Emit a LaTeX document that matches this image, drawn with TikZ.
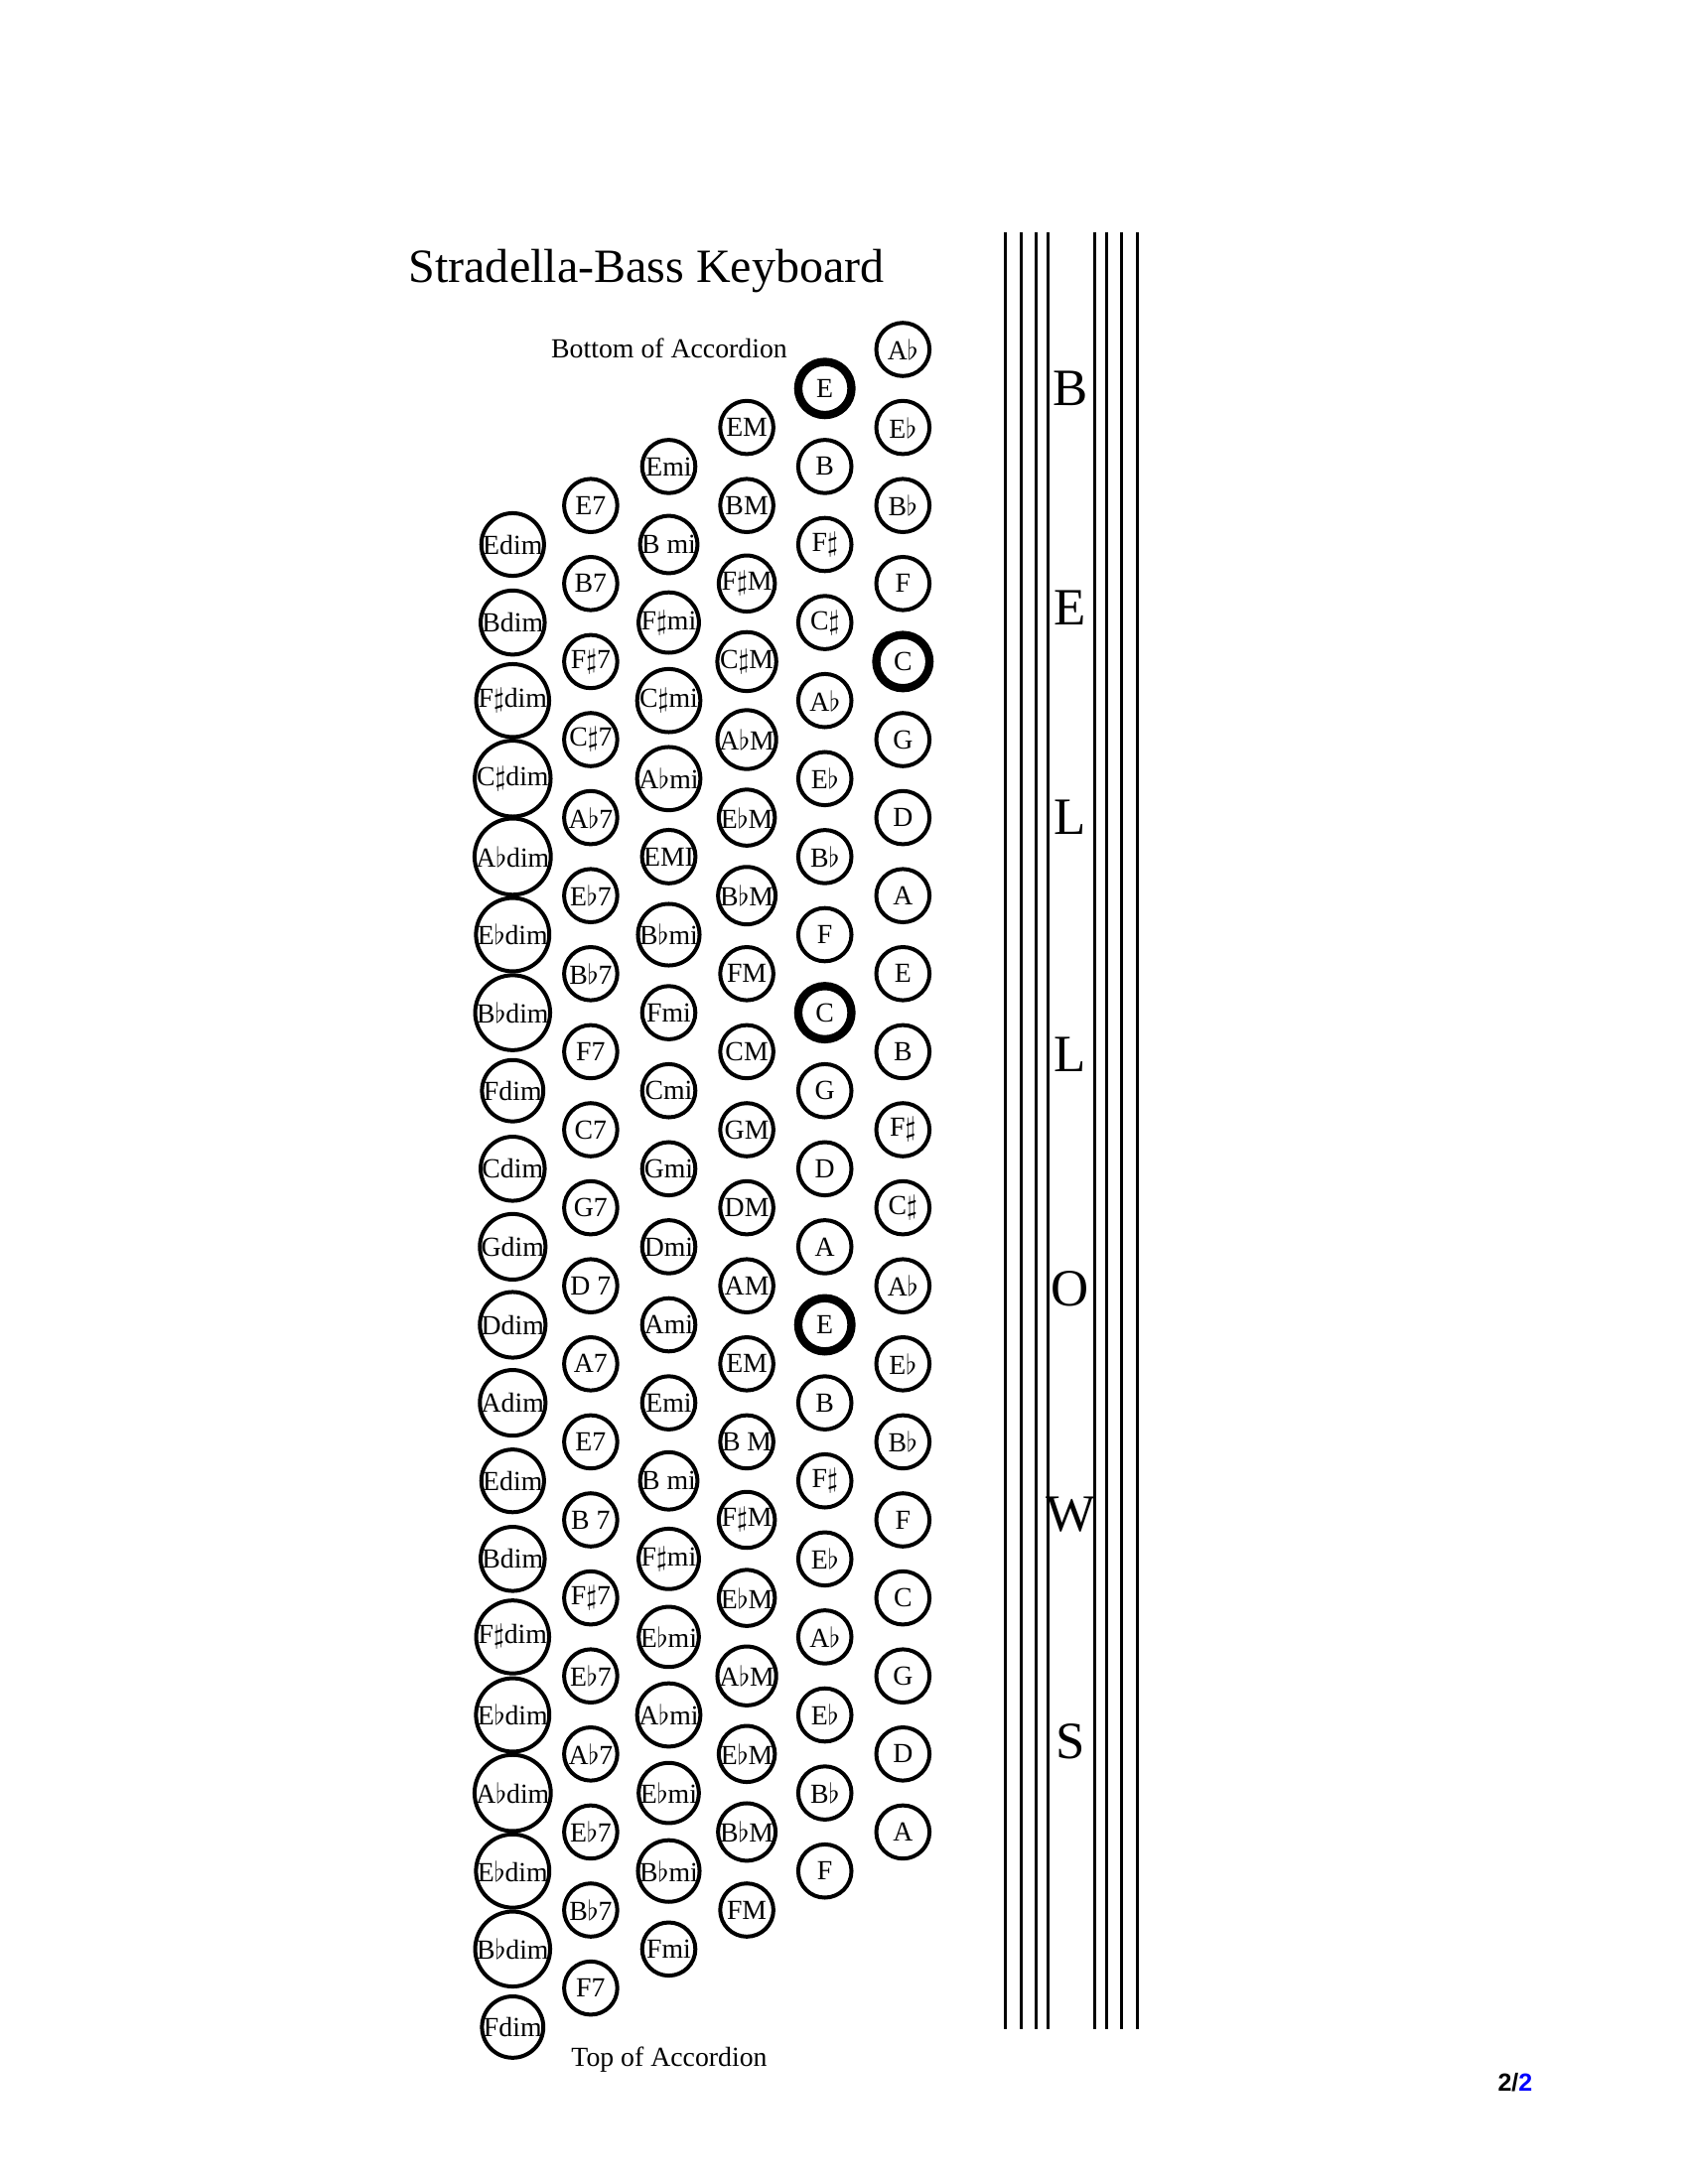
\documentclass[tikz,border=0pt]{standalone}
\usepackage{fontspec}
\setmainfont{Liberation Serif}
\newfontfamily\pagefont{Liberation Sans}
\newcommand\shp{\ensuremath{\sharp}}
\newcommand\flt{\ensuremath{\flat}}
\begin{document}
\begin{tikzpicture}[x=0.36pt,y=-0.36pt,
  key/.style={circle,draw,line width=1.44pt,inner sep=0pt,minimum size=19.3pt,font=\fontsize{10}{12}\selectfont},
  keythick/.style={key,line width=3pt},
  bellowsline/.style={line width=1.2pt},
  bellowsletter/.style={inner sep=0pt,anchor=base,font=\fontsize{19}{22}\selectfont},
  caption/.style={inner sep=0pt,anchor=base,font=\fontsize{10}{12}\selectfont}]
\useasboundingbox (0,0) rectangle (1700,2200);

% title and captions
\node[inner sep=0pt,anchor=base west,font=\fontsize{17.3}{20}\selectfont] (title) at (411,285) {Stradella-Bass Keyboard};
\node[caption] (bottomlab) at (674,361) {Bottom of Accordion};
\node[caption] (toplab) at (674,2081.7) {Top of Accordion};

% column 1: diminished
\foreach \lab [count=\i] in {Edim,Bdim,F\shp dim,C\shp dim,A\flt dim,E\flt dim,B\flt dim,Fdim,Cdim,Gdim,Ddim,Adim,Edim,Bdim,F\shp dim,E\flt dim,A\flt dim,E\flt dim,B\flt dim,Fdim}
  \node[key] (dim\i) at (516.3,{548.5+(\i-1)*78.6}) {\lab};

% column 2: seventh
\foreach \lab [count=\i] in {E7,B7,F\shp 7,C\shp 7,A\flt 7,E\flt 7,B\flt 7,F7,C7,G7,D 7,A7,E7,B 7,F\shp 7,E\flt 7,A\flt 7,E\flt 7,B\flt 7,F7}
  \node[key] (sev\i) at (594.9,{509.2+(\i-1)*78.6}) {\lab};

% column 3: minor
\foreach \lab [count=\i] in {Emi,B mi,F\shp mi,C\shp mi,A\flt mi,EMI,B\flt mi,Fmi,Cmi,Gmi,Dmi,Ami,Emi,B mi,F\shp mi,E\flt mi,A\flt mi,E\flt mi,B\flt mi,Fmi}
  \node[key] (min\i) at (673.5,{469.9+(\i-1)*78.6}) {\lab};

% column 4: major
\foreach \lab [count=\i] in {EM,BM,F\shp M,C\shp M,A\flt M,E\flt M,B\flt M,FM,CM,GM,DM,AM,EM,B M,F\shp M,E\flt M,A\flt M,E\flt M,B\flt M,FM}
  \node[key] (maj\i) at (752.1,{430.6+(\i-1)*78.6}) {\lab};

% column 5: fundamental bass
\foreach \lab/\st [count=\i] in {E/keythick,B/key,F\shp/key,C\shp/key,A\flt/key,E\flt/key,B\flt/key,F/key,C/keythick,G/key,D/key,A/key,E/keythick,B/key,F\shp/key,E\flt/key,A\flt/key,E\flt/key,B\flt/key,F/key}
  \node[\st] (bas\i) at (830.7,{391.3+(\i-1)*78.6}) {\lab};

% column 6: counterbass
\foreach \lab/\st [count=\i] in {A\flt/key,E\flt/key,B\flt/key,F/key,C/keythick,G/key,D/key,A/key,E/key,B/key,F\shp/key,C\shp/key,A\flt/key,E\flt/key,B\flt/key,F/key,C/key,G/key,D/key,A/key}
  \node[\st] (ctr\i) at (909.3,{352+(\i-1)*78.6}) {\lab};

% bellows
\foreach \x in {1012.5,1028.2,1043.5,1055.3,1102.7,1114.3,1129.8,1145.6}
  \draw[bellowsline] (\x,234) -- (\x,2043.6);
\node[bellowsletter] (bB) at (1078,408.5) {B};
\node[bellowsletter] (bE) at (1078,629) {E};
\node[bellowsletter] (bL1) at (1078,840) {L};
\node[bellowsletter] (bL2) at (1078,1079) {L};
\node[bellowsletter] (bO) at (1078,1315) {O};
\node[bellowsletter] (bW) at (1078,1542) {W};
\node[bellowsletter] (bS) at (1078,1771) {S};

% page number
\node[inner sep=0pt,anchor=base west,font=\pagefont\bfseries\fontsize{9}{10}\selectfont] (pagenum) at (1508,2106) {2/\textcolor{blue}{2}};
\end{tikzpicture}
\end{document}
